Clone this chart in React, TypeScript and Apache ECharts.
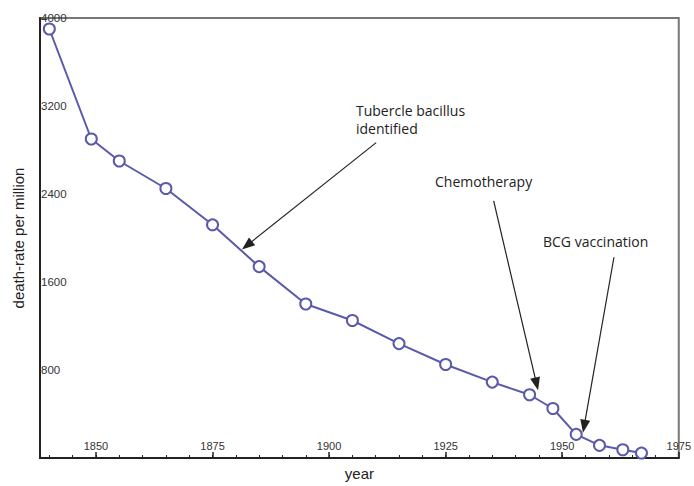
import React, { useEffect, useRef } from "react";
import * as echarts from "echarts";

const years = [1840, 1849, 1855, 1865, 1875, 1885, 1895, 1905, 1915, 1925, 1935, 1943, 1948, 1953, 1958, 1963, 1967];
const deathRate = [3900, 2900, 2700, 2450, 2120, 1740, 1400, 1250, 1040, 850, 690, 575, 450, 215, 115, 75, 45];
const xLabelValues = [1850, 1875, 1900, 1925, 1950, 1975];
const xMinorTickValues = [1840, 1845, 1850, 1855, 1860, 1865, 1870, 1875, 1880, 1885, 1890, 1895, 1900, 1905, 1910, 1915, 1920, 1925, 1930, 1935, 1940, 1945, 1950, 1955, 1960, 1965, 1970];
const yLabelValues = [800, 1600, 2400, 3200, 4000];

const annotations = [
  { text: "Tubercle bacillus\nidentified", from: [1910.1, 2867], to: [1882.4, 1933] },
  { text: "Chemotherapy", from: [1935.3, 2337], to: [1944.5, 674] },
  { text: "BCG vaccination", from: [1961.1, 1825], to: [1954.7, 288] },
];

const FONT = "'Liberation Sans', Arial, sans-serif";
const ANNOT_FONT = "'Open Sans', 'DejaVu Sans', sans-serif";

export default function App() {
  const ref = useRef<HTMLDivElement>(null);
  useEffect(() => {
    if (!ref.current) return;
    const chart = echarts.init(ref.current, null, { renderer: "svg" });
    const lineColor = "#5a5aaa";
    chart.setOption({
      animation: false,
      backgroundColor: "#ffffff",
      grid: { left: 40, right: 12, top: 18, bottom: 23, show: true, borderColor: "#777", borderWidth: 2, backgroundColor: "transparent" },
      xAxis: [
        {
          type: "value",
          min: 1838,
          max: 1975,
          name: "year",
          nameLocation: "middle",
          nameGap: 8,
          nameTextStyle: { fontFamily: FONT, fontSize: 15, color: "#222", verticalAlign: "top" },
          axisLine: { show: true, lineStyle: { color: "#222", width: 2 } },
          axisTick: { show: true, inside: true, length: 3, lineStyle: { color: "#222", width: 1 }, customValues: xMinorTickValues },
          axisLabel: { show: true, inside: true, margin: 7, fontFamily: FONT, fontSize: 11, color: "#333", customValues: xLabelValues, formatter: (v: number) => String(v) },
          splitLine: { show: false },
        },
        {
          type: "value",
          min: 1838,
          max: 1975,
          position: "bottom",
          axisLine: { show: false },
          axisTick: { show: true, inside: true, length: 6, lineStyle: { color: "#222", width: 1.5 }, customValues: xLabelValues },
          axisLabel: { show: false },
          splitLine: { show: false },
        },
      ],
      yAxis: {
        type: "value",
        min: 0,
        max: 4000,
        name: "death-rate per million",
        nameLocation: "middle",
        nameGap: 14,
        nameRotate: 90,
        nameTextStyle: { fontFamily: FONT, fontSize: 15, color: "#222" },
        axisLine: { show: true, lineStyle: { color: "#222", width: 2 } },
        axisTick: { show: false },
        axisLabel: { inside: true, margin: 1, fontFamily: FONT, fontSize: 11.5, color: "#333", customValues: yLabelValues, formatter: (v: number) => String(v) },
        splitLine: { show: false },
      },
      series: [
        {
          type: "line",
          data: years.map((y, i) => [y, deathRate[i]]),
          lineStyle: { color: lineColor, width: 2 },
          itemStyle: { color: "#ffffff", borderColor: lineColor, borderWidth: 2 },
          symbol: "circle",
          symbolSize: 11,
          z: 3,
          markLine: {
            silent: true,
            symbol: ["none", "triangle"],
            symbolSize: [10, 13],
            label: { show: false },
            lineStyle: { color: "#222", width: 1.2, type: "solid" },
            data: annotations.map((a) => [
              { coord: a.from },
              { coord: a.to },
            ]),
          },
        },
      ],
      graphic: [
        { type: "text", left: 356, top: 101, style: { text: annotations[0].text, fontFamily: ANNOT_FONT, fontSize: 14, lineHeight: 18, fill: "#222" } },
        { type: "text", left: 435, top: 174, style: { text: annotations[1].text, fontFamily: ANNOT_FONT, fontSize: 14, fill: "#222" } },
        { type: "text", left: 543, top: 234, style: { text: annotations[2].text, fontFamily: ANNOT_FONT, fontSize: 14, fill: "#222" } },
      ],
    });
    return () => chart.dispose();
  }, []);
  return <div ref={ref} style={{ position: "absolute", left: 0, top: 0, width: 694, height: 486 }} />;
}
